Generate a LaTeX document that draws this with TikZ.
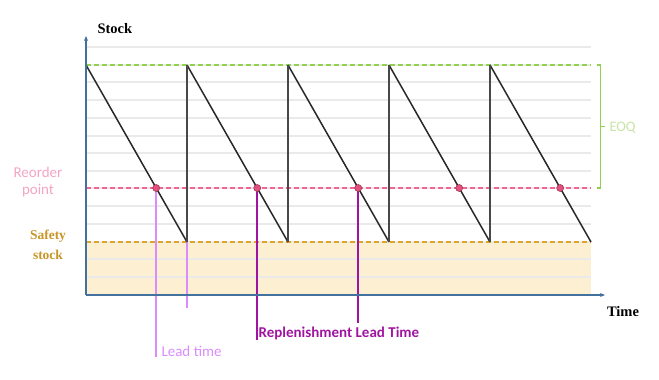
\documentclass[tikz,border=0pt]{standalone}
\usepackage{fontspec}
\setmainfont{Liberation Serif}
\newfontfamily\calib{Carlito}
\usetikzlibrary{arrows.meta}
\definecolor{axisc}{RGB}{65,113,156}
\definecolor{gridc}{RGB}{234,234,234}
\definecolor{eoqc}{RGB}{146,208,80}
\definecolor{eoqtxt}{RGB}{200,228,168}
\definecolor{ropc}{RGB}{240,100,150}
\definecolor{roptxt}{RGB}{244,165,195}
\definecolor{ssc}{RGB}{218,165,40}
\definecolor{sstxt}{RGB}{200,150,40}
\definecolor{ssfill}{RGB}{253,240,210}
\definecolor{dotc}{RGB}{228,80,125}
\definecolor{leadc}{RGB}{218,140,250}
\definecolor{replc}{RGB}{160,20,160}
\definecolor{sawc}{RGB}{40,40,40}
\tikzset{
  axisline/.style={draw=axisc, line width=1.3pt, -{Stealth[length=5pt,width=4pt]}},
  gridline/.style={draw=gridc, line width=1.3pt},
  dashline/.style={dashed, dash pattern=on 5pt off 3pt, line width=1.3pt},
  saw/.style={draw=sawc, line width=1.5pt},
  rise/.style={draw=sawc!85!white, line width=2pt},
  rdot/.style={circle, fill=dotc, draw=dotc!70!black, line width=0.6pt, inner sep=0pt, minimum size=7pt},
  leadl/.style={draw=leadc, line width=1.7pt},
  repll/.style={draw=replc, line width=1.7pt},
}
\begin{document}
\begin{tikzpicture}[x=1pt,y=-1pt]
\useasboundingbox (0,0) rectangle (659,380);
% shaded safety stock area
\fill[ssfill] (86,242) rectangle (591,295);
% grid lines
\foreach \y in {47,65,82,100,118,136,153,171,188,206,224,242,259,277}
  \draw[gridline] (86,\y) -- (591,\y);
% reference levels
\draw[dashline, draw=eoqc] (86,65) -- (591,65);
\draw[dashline, draw=ropc] (86,188) -- (591,188);
\draw[dashline, draw=ssc] (86,242) -- (591,242);
% points
\foreach \i/\x in {0/86,1/187,2/288,3/389,4/490,5/591} {
  \coordinate (top\i) at (\x,65);
  \coordinate (bot\i) at (\x,242);
}
\foreach \i/\x in {1/156.2,2/257.2,3/358.2,4/459.2,5/560.2}
  \coordinate (rp\i) at (\x,188);
% lead time lines (behind sawtooth)
\coordinate (lt1end) at (156.2,357);
\coordinate (lt2end) at (187,308);
\coordinate (rl1end) at (257.2,340);
\coordinate (rl2end) at (358.2,323);
\draw[leadl] (rp1) -- (lt1end);
\draw[leadl] (bot1) -- (lt2end);
\draw[repll] (rp2) -- (rl1end);
\draw[repll] (rp3) -- (rl2end);
% sawtooth
\draw[saw] (top0) -- (bot1);
\draw[saw] (top1) -- (bot2);
\draw[saw] (top2) -- (bot3);
\draw[saw] (top3) -- (bot4);
\draw[saw] (top4) -- (bot5);
\foreach \i in {1,2,3,4} \draw[rise] (bot\i) -- (top\i);
% reorder dots
\foreach \i in {1,...,5} \node[rdot] (d\i) at (rp\i) {};
% axes
\coordinate (origin) at (86,295);
\coordinate (ytip) at (86,36);
\coordinate (xtip) at (605,295);
\draw[axisline] (origin) -- (ytip);
\draw[axisline] (origin) -- (xtip);
% EOQ bracket
\coordinate (b1) at (597,65);
\coordinate (b2) at (600.5,65);
\coordinate (b3) at (600.5,188);
\coordinate (b4) at (597,188);
\coordinate (bm) at (600.5,126.5);
\coordinate (bt) at (604.5,126.5);
\draw[draw=eoqc, line width=1.3pt] (b1) -- (b2) -- (b3) -- (b4);
\draw[draw=eoqc, line width=1.3pt] (bm) -- (bt);
% labels
\node[font=\bfseries\fontsize{14.5}{16}\selectfont, anchor=west] (stock) at (94,29) {Stock};
\node[font=\bfseries\fontsize{14.5}{16}\selectfont] (time) at (623,312) {Time};
\node[font=\calib\fontsize{14.5}{17.5}\selectfont, text=eoqtxt, anchor=west] (eoq) at (606,128) {EOQ};
\node[font=\calib\fontsize{15}{17.5}\selectfont, text=roptxt, align=center] (rop) at (38,182) {Reorder\\point};
\node[font=\bfseries\fontsize{13.5}{20}\selectfont, text=sstxt, align=center] (ss) at (48,245) {Safety\\stock};
\node[font=\calib\fontsize{15}{16}\selectfont, text=leadc, anchor=west] (ltxt) at (158,351) {Lead time};
\node[font=\calib\bfseries\fontsize{15}{16}\selectfont, text=replc, anchor=west] (rtxt) at (255,333) {Replenishment Lead Time};
\end{tikzpicture}
\end{document}
